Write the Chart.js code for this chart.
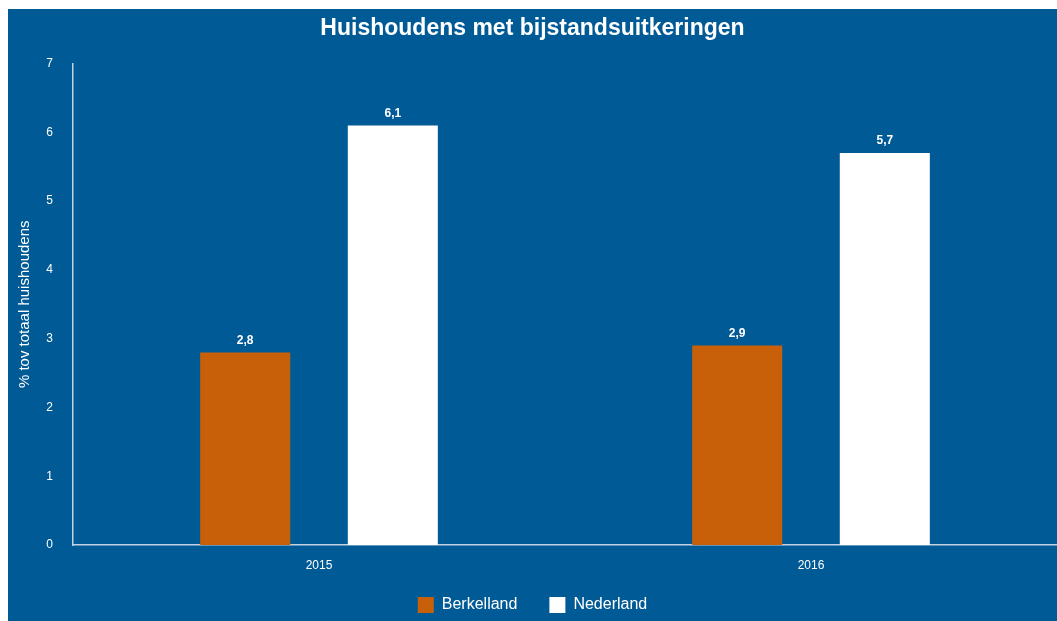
<!DOCTYPE html>
<html><head><meta charset="utf-8">
<script src="https://cdn.jsdelivr.net/npm/chart.js@4"></script>
<style>
html,body{margin:0;padding:0;background:#fff;}
#wrap{position:absolute;left:8px;top:9px;width:1049px;height:612px;background:#005a96;}
</style></head><body>
<div id="wrap"><canvas id="c" width="1049" height="612"></canvas></div>
<script>
const categories = ['2015', '2016'];
const berkelland = [2.8, 2.9];
const nederland = [6.1, 5.7];
const yTicks = [0,1,2,3,4,5,6,7];

const FONT = '"Liberation Sans", Arial, sans-serif';

const labelPlugin = {
  id: 'valueLabels',
  afterLayout(chart) {
    // lift the legend slightly so it sits closer to the axis labels
    if (chart.legend) { chart.legend.top -= 7; chart.legend.bottom -= 7; }
  },
  afterDatasetsDraw(chart) {
    const ctx = chart.ctx;
    ctx.save();
    ctx.font = 'bold 12px ' + FONT;
    ctx.fillStyle = '#ffffff';
    ctx.textAlign = 'center';
    ctx.textBaseline = 'bottom';
    chart.data.datasets.forEach((ds, i) => {
      chart.getDatasetMeta(i).data.forEach((bar, j) => {
        ctx.fillText(String(ds.data[j]).replace('.', ','), bar.x, bar.y - 6);
      });
    });
    ctx.restore();
  }
};

new Chart(document.getElementById('c'), {
  type: 'bar',
  data: {
    labels: categories,
    datasets: [
      { label: 'Berkelland', data: berkelland, backgroundColor: '#c8600a' },
      { label: 'Nederland', data: nederland, backgroundColor: '#ffffff' }
    ]
  },
  options: {
    responsive: false,
    animation: false,
    categoryPercentage: 0.6,
    barPercentage: 0.61,
    layout: { padding: { left: 0, right: 0, top: 0, bottom: 0 } },
    plugins: {
      title: {
        display: true,
        text: 'Huishoudens met bijstandsuitkeringen',
        color: '#ffffff',
        font: { family: FONT, size: 23, weight: 'bold' },
        padding: { top: 6, bottom: 21 }
      },
      legend: {
        position: 'bottom',
        maxHeight: 49,
        labels: {
          color: '#ffffff',
          font: { family: FONT, size: 16 },
          boxWidth: 16, boxHeight: 16, padding: 32
        }
      },
      tooltip: { enabled: false }
    },
    scales: {
      x: {
        afterFit: (s) => { s.height = 27; },
        grid: { display: false },
        border: { color: '#c3d2e2', width: 1.5 },
        ticks: { color: '#ffffff', font: { family: FONT, size: 12 }, padding: 5 }
      },
      y: {
        min: 0, max: 7,
        afterBuildTicks: (s) => { s.ticks = yTicks.map(v => ({ value: v })); },
        afterFit: (s) => { s.width = 65; },
        grid: { display: false },
        border: { color: '#c3d2e2', width: 1.5 },
        ticks: { color: '#ffffff', font: { family: FONT, size: 12 }, padding: 12 },
        title: {
          display: true,
          text: '% tov totaal huishoudens',
          color: '#ffffff',
          font: { family: FONT, size: 15 },
          padding: { top: 8, bottom: 0 }
        }
      }
    }
  },
  plugins: [labelPlugin]
});
</script>
</body></html>
